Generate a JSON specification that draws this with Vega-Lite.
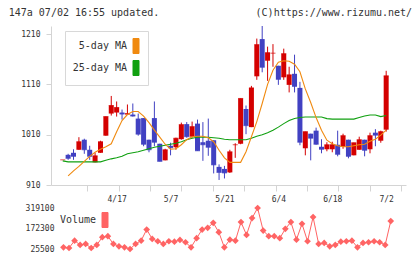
{
  "$schema": "https://vega.github.io/schema/vega-lite/v6.json",
  "background": "white",
  "padding": {"left": 8, "top": 7, "right": 0, "bottom": 0},
  "title": {"text": "147a 07/02 16:55 updated.\u00a0\u00a0\u00a0\u00a0\u00a0\u00a0\u00a0\u00a0\u00a0\u00a0\u00a0\u00a0\u00a0\u00a0\u00a0\u00a0(C)https://www.rizumu.net/", "anchor": "start", "font": "DejaVu Sans Mono", "fontSize": 10, "fontWeight": "normal", "color": "#333", "dx": -12, "offset": 8},
  "spacing": 1,
  "datasets": {
    "d": [
      {"i":0,"o":960,"h":960,"l":960,"c":960,"ma25":958},
      {"i":1,"o":970,"h":972,"l":960,"c":963,"ma5":928,"ma25":956,"v":37800},
      {"i":2,"o":974,"h":981,"l":960,"c":967,"ma5":938,"ma25":956,"v":32700},
      {"i":3,"o":980,"h":1005,"l":980,"c":996,"ma5":947,"ma25":956,"v":85400},
      {"i":4,"o":1000,"h":1002,"l":972,"c":980,"ma5":957,"ma25":956,"v":54400},
      {"i":5,"o":980,"h":988,"l":960,"c":967,"ma5":967,"ma25":956,"v":61600},
      {"i":6,"o":955,"h":974,"l":955,"c":968,"ma5":975,"ma25":956,"v":32700},
      {"i":7,"o":974,"h":998,"l":974,"c":996,"ma5":981,"ma25":956,"v":54400},
      {"i":8,"o":1008,"h":1046,"l":1008,"c":1046,"ma5":986,"ma25":959,"v":109900},
      {"i":9,"o":1052,"h":1087,"l":1048,"c":1068,"ma5":992,"ma25":962,"v":117100},
      {"i":10,"o":1054,"h":1076,"l":1046,"c":1064,"ma5":1016,"ma25":964,"v":61600},
      {"i":11,"o":1054,"h":1060,"l":1040,"c":1051,"ma5":1038,"ma25":967,"v":45000},
      {"i":12,"o":1050,"h":1070,"l":1050,"c":1052,"ma5":1050,"ma25":972,"v":37800},
      {"i":13,"o":1050,"h":1072,"l":1046,"c":1047,"ma5":1056,"ma25":974,"v":25500},
      {"i":14,"o":1042,"h":1052,"l":1008,"c":1011,"ma5":1056,"ma25":976,"v":61600},
      {"i":15,"o":1043,"h":1043,"l":987,"c":991,"ma5":1047,"ma25":979,"v":85400},
      {"i":16,"o":1000,"h":1000,"l":975,"c":980,"ma5":1034,"ma25":982,"v":164700},
      {"i":17,"o":1043,"h":1076,"l":987,"c":995,"ma5":1019,"ma25":985,"v":97600},
      {"i":18,"o":992,"h":992,"l":957,"c":957,"ma5":1005,"ma25":987,"v":81000},
      {"i":19,"o":959,"h":982,"l":959,"c":980,"ma5":991,"ma25":989,"v":61600},
      {"i":20,"o":988,"h":994,"l":969,"c":984,"ma5":981,"ma25":991,"v":81000},
      {"i":21,"o":985,"h":1004,"l":980,"c":1003,"ma5":982,"ma25":993,"v":78200},
      {"i":22,"o":1001,"h":1034,"l":1000,"c":1030,"ma5":990,"ma25":996,"v":90400},
      {"i":23,"o":1031,"h":1035,"l":1004,"c":1006,"ma5":1000,"ma25":1000,"v":73800},
      {"i":24,"o":1006,"h":1036,"l":1004,"c":1026,"ma5":1006,"ma25":1003,"v":37800},
      {"i":25,"o":1032,"h":1040,"l":978,"c":978,"ma5":1007,"ma25":1005,"v":102700},
      {"i":26,"o":995,"h":1035,"l":958,"c":990,"ma5":1007,"ma25":1005,"v":164700},
      {"i":27,"o":998,"h":1042,"l":968,"c":985,"ma5":1004,"ma25":1005,"v":177000},
      {"i":28,"o":999,"h":999,"l":933,"c":950,"ma5":996,"ma25":1004,"v":213100},
      {"i":29,"o":946,"h":951,"l":920,"c":935,"ma5":979,"ma25":1003,"v":146000},
      {"i":30,"o":942,"h":948,"l":923,"c":934,"ma5":964,"ma25":1001,"v":37800},
      {"i":31,"o":935,"h":980,"l":934,"c":976,"ma5":955,"ma25":1000,"v":92600},
      {"i":32,"o":990,"h":993,"l":964,"c":990,"ma5":955,"ma25":1000,"v":85400},
      {"i":33,"o":992,"h":1082,"l":991,"c":1082,"ma5":955,"ma25":1000,"v":218100},
      {"i":34,"o":1061,"h":1068,"l":1011,"c":1028,"ma5":976,"ma25":1000,"v":126500},
      {"i":35,"o":1025,"h":1107,"l":1025,"c":1103,"ma5":1006,"ma25":1003,"v":247000},
      {"i":36,"o":1126,"h":1201,"l":1119,"c":1189,"ma5":1036,"ma25":1007,"v":319100},
      {"i":37,"o":1200,"h":1226,"l":1134,"c":1144,"ma5":1072,"ma25":1010,"v":157500},
      {"i":38,"o":1157,"h":1185,"l":1117,"c":1173,"ma5":1110,"ma25":1014,"v":117100},
      {"i":39,"o":1172,"h":1190,"l":1145,"c":1172,"ma5":1138,"ma25":1019,"v":117100},
      {"i":40,"o":1147,"h":1147,"l":1109,"c":1120,"ma5":1154,"ma25":1025,"v":102700},
      {"i":41,"o":1124,"h":1181,"l":1119,"c":1171,"ma5":1157,"ma25":1032,"v":169800},
      {"i":42,"o":1109,"h":1145,"l":1094,"c":1129,"ma5":1156,"ma25":1038,"v":218100},
      {"i":43,"o":1131,"h":1169,"l":1094,"c":1106,"ma5":1150,"ma25":1042,"v":92600},
      {"i":44,"o":1103,"h":1115,"l":989,"c":995,"ma5":1135,"ma25":1044,"v":205900},
      {"i":45,"o":983,"h":1016,"l":969,"c":1016,"ma5":1101,"ma25":1045,"v":81000},
      {"i":46,"o":1012,"h":1012,"l":959,"c":1003,"ma5":1074,"ma25":1045,"v":254200},
      {"i":47,"o":1018,"h":1024,"l":990,"c":991,"ma5":1044,"ma25":1045,"v":61600},
      {"i":48,"o":986,"h":1001,"l":973,"c":981,"ma5":1019,"ma25":1045,"v":68800},
      {"i":49,"o":981,"h":995,"l":977,"c":990,"ma5":999,"ma25":1042,"v":45000},
      {"i":50,"o":981,"h":996,"l":975,"c":990,"ma5":992,"ma25":1041,"v":54400},
      {"i":51,"o":990,"h":1018,"l":967,"c":971,"ma5":988,"ma25":1041,"v":78200},
      {"i":52,"o":986,"h":1012,"l":982,"c":1008,"ma5":986,"ma25":1041,"v":81000},
      {"i":53,"o":1000,"h":1000,"l":963,"c":967,"ma5":986,"ma25":1041,"v":85400},
      {"i":54,"o":969,"h":994,"l":969,"c":994,"ma5":988,"ma25":1041,"v":37800},
      {"i":55,"o":980,"h":1006,"l":980,"c":1000,"ma5":990,"ma25":1044,"v":68800},
      {"i":56,"o":1000,"h":1000,"l":967,"c":979,"ma5":991,"ma25":1047,"v":73800},
      {"i":57,"o":981,"h":1014,"l":973,"c":1008,"ma5":997,"ma25":1049,"v":81000},
      {"i":58,"o":1014,"h":1021,"l":987,"c":1009,"ma5":1001,"ma25":1049,"v":73800},
      {"i":59,"o":998,"h":1018,"l":994,"c":1016,"ma5":1009,"ma25":1046,"v":54400},
      {"i":60,"o":1020,"h":1137,"l":1016,"c":1127,"ma5":1019,"ma25":1048,"v":225300}
    ]
  },
  "resolve": {"scale": {"color": "independent"}, "legend": {"color": "independent"}},
  "vconcat": [
    {
      "width": 355,
      "height": 159,
      "data": {"name": "d"},
      "resolve": {"axis": {"x": "independent"}, "scale": {"x": "shared", "y": "shared"}},
      "layer": [
        {
          "mark": {"type": "rule", "strokeWidth": 1},
          "encoding": {
            "x": {"field": "i", "type": "quantitative", "scale": {"domain": [-1.25, 62.75], "nice": false, "zero": false},
                  "axis": {"orient": "bottom", "values": [10, 20, 30, 40, 50, 60], "ticks": false, "tickSize": 0, "labelPadding": 10, "domain": true,
                           "labelExpr": "datum.value == 10 ? '4/17' : datum.value == 20 ? '5/7' : datum.value == 30 ? '5/21' : datum.value == 40 ? '6/4' : datum.value == 50 ? '6/18' : '7/2'"}},
            "y": {"field": "l", "type": "quantitative", "scale": {"domain": [910, 1226], "nice": false, "zero": false},
                  "axis": {"values": [910, 1010, 1110, 1210], "format": "d", "tickSize": 5, "labelPadding": 6}},
            "y2": {"field": "h"},
            "color": {"condition": {"test": "datum.c >= datum.o", "value": "#d40000"}, "value": "#4141c2"}
          }
        },
        {
          "mark": {"type": "bar", "width": 5},
          "encoding": {
            "x": {"field": "i", "type": "quantitative",
                  "axis": {"orient": "bottom", "values": [4.568, 10.386, 16.205, 22.023, 27.841, 33.659, 39.477, 45.295, 51.114, 56.932, 62.75], "labels": false, "domain": false, "ticks": true, "tickSize": 6}},
            "y": {"field": "o", "type": "quantitative", "axis": {"values": [910, 1010, 1110, 1210], "format": "d", "tickSize": 5, "labelPadding": 6}},
            "y2": {"field": "c"},
            "color": {"condition": {"test": "datum.c >= datum.o", "value": "#d40000"}, "value": "#4141c2"}
          }
        },
        {
          "mark": {"type": "tick", "orient": "horizontal", "size": 5, "thickness": 1},
          "encoding": {
            "x": {"field": "i", "type": "quantitative", "axis": null},
            "y": {"field": "c", "type": "quantitative", "axis": {"values": [910, 1010, 1110, 1210], "format": "d", "tickSize": 5, "labelPadding": 6}},
            "color": {"condition": {"test": "datum.c >= datum.o", "value": "#d40000"}, "value": "#4141c2"}
          }
        },
        {
          "transform": [{"fold": ["ma5", "ma25"], "as": ["k", "m"]}, {"filter": "isValid(datum.m)"}],
          "mark": {"type": "line", "strokeWidth": 1.1},
          "encoding": {
            "x": {"field": "i", "type": "quantitative", "axis": null},
            "y": {"field": "m", "type": "quantitative", "axis": {"values": [910, 1010, 1110, 1210], "format": "d", "tickSize": 5, "labelPadding": 6}},
            "color": {"field": "k", "type": "nominal", "scale": {"domain": ["ma5", "ma25"], "range": ["#f08a10", "#10a010"]},
                      "legend": {"title": null, "orient": "none", "legendX": 14, "legendY": 5, "direction": "vertical",
                                 "labelExpr": "datum.value == 'ma5' ? '5-day MA' : '25-day MA'",
                                 "symbolType": "M-0.4,-1H0.4V1H-0.4Z", "symbolSize": 225, "symbolStrokeWidth": 1, "symbolStrokeColor": "#333",
                                 "labelAlign": "right", "labelOffset": -17, "symbolOffset": 56,
                                 "labelFont": "DejaVu Sans Mono", "labelFontSize": 10, "labelColor": "#333",
                                 "fillColor": "white", "strokeColor": "#d8d8d8", "padding": 7, "rowPadding": 2,
                                 "encode": {"symbols": {"update": {"fill": {"signal": "datum.value == 'ma5' ? '#f08a10' : '#10a010'"}, "stroke": {"value": "#333"}, "strokeWidth": {"value": 1}, "opacity": {"value": 1}}}}}}
          }
        }
      ]
    },
    {
      "width": 355,
      "height": 41,
      "data": {"name": "d"},
      "transform": [{"filter": "isValid(datum.v)"}],
      "layer": [
        {
          "mark": {"type": "line", "strokeWidth": 1},
          "encoding": {
            "x": {"field": "i", "type": "quantitative", "scale": {"domain": [-1.25, 62.75], "nice": false, "zero": false}, "axis": null},
            "y": {"field": "v", "type": "quantitative", "scale": {"domain": [25500, 319100], "nice": false, "zero": false},
                  "axis": {"values": [25500, 172300, 319100], "format": "d", "domain": false, "ticks": false, "tickSize": 0, "labelPadding": -3, "labelOverlap": false, "labelBound": false}},
            "color": {"datum": "Volume", "type": "nominal", "scale": {"range": ["#ff6464"]},
                      "legend": {"title": null, "orient": "none", "legendX": -10, "legendY": 4, "direction": "vertical",
                                 "symbolType": "M-0.4,-1H0.4V1H-0.4Z", "symbolSize": 225, "symbolStrokeWidth": 1, "symbolStrokeColor": "#333",
                                 "labelAlign": "right", "labelOffset": -17, "symbolOffset": 56,
                                 "labelFont": "DejaVu Sans Mono", "labelFontSize": 10, "labelColor": "#333", "padding": 0,
                                 "encode": {"symbols": {"update": {"fill": {"value": "#ff6464"}, "stroke": {"value": "#333"}, "strokeWidth": {"value": 1}, "opacity": {"value": 1}}}}}}
          }
        },
        {
          "mark": {"type": "point", "shape": "diamond", "filled": true, "size": 45, "opacity": 1},
          "encoding": {
            "x": {"field": "i", "type": "quantitative", "axis": null},
            "y": {"field": "v", "type": "quantitative",
                  "axis": {"values": [25500, 172300, 319100], "format": "d", "domain": false, "ticks": false, "tickSize": 0, "labelPadding": -3, "labelOverlap": false, "labelBound": false}},
            "color": {"datum": "Volume", "type": "nominal"}
          }
        }
      ]
    }
  ],
  "config": {
    "view": {"stroke": null},
    "axis": {"labelFont": "DejaVu Sans Mono", "labelFontSize": 8, "labelColor": "#333", "domainColor": "#d4d4d4", "tickColor": "#d4d4d4", "grid": false, "title": null}
  }
}
